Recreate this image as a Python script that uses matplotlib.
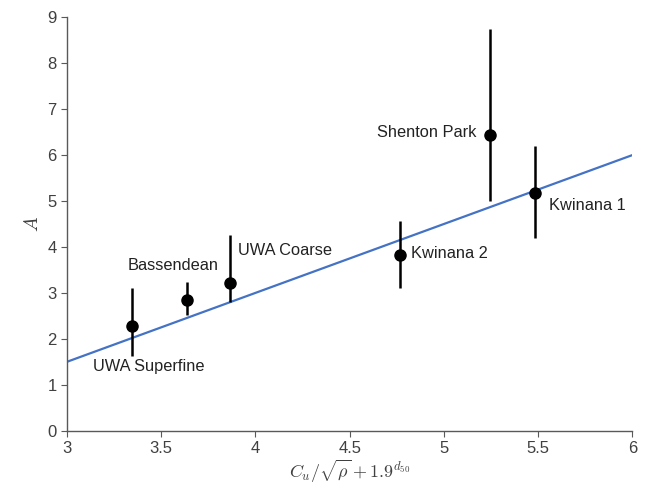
import numpy as np
import matplotlib
matplotlib.use('Agg')
import matplotlib.pyplot as plt
from matplotlib.ticker import FormatStrFormatter, MultipleLocator

plt.rcParams['font.family'] = ['Liberation Sans', 'DejaVu Sans']
plt.rcParams['mathtext.fontset'] = 'cm'

names = ['UWA Superfine', 'Bassendean', 'UWA Coarse', 'Kwinana 2', 'Shenton Park', 'Kwinana 1']
x = [3.347, 3.635, 3.864, 4.766, 5.243, 5.481]
y = [2.28, 2.85, 3.21, 3.83, 6.44, 5.18]
y_hi = [3.11, 3.23, 4.26, 4.57, 8.74, 6.20]
y_lo = [1.63, 2.52, 2.80, 3.10, 5.00, 4.19]

fit_x = [3.0, 6.0]
fit_slope, fit_icpt = 1.5, -3.0

fig = plt.figure(figsize=(6.48, 4.86), dpi=100)
ax = fig.add_axes([0.1034, 0.1138, 0.8724, 0.8506])

fx = np.array(fit_x)
ax.plot(fx, fit_slope * fx + fit_icpt, color='#4472C4', lw=1.6, zorder=1)

yerr = [np.array(y) - np.array(y_lo), np.array(y_hi) - np.array(y)]
ax.errorbar(x, y, yerr=yerr, fmt='o', color='black', ms=8, elinewidth=1.8,
            capsize=0, zorder=3)

# point labels
lab = dict(fontsize=11.8, color='#222222', va='center')
ax.text(3.138, 1.39, names[0], ha='left', **lab)
ax.text(3.565, 3.59, names[1], ha='center', **lab)
ax.text(3.908, 3.93, names[2], ha='left', **lab)
ax.text(4.824, 3.85, names[3], ha='left', **lab)
ax.text(5.171, 6.50, names[4], ha='right', **lab)
ax.text(5.558, 4.91, names[5], ha='left', **lab)

ax.set_xlim(3, 6)
ax.set_ylim(0, 9)
ax.xaxis.set_major_locator(MultipleLocator(0.5))
ax.yaxis.set_major_locator(MultipleLocator(1))
ax.xaxis.set_major_formatter(FormatStrFormatter('%g'))

for s in ['top', 'right']:
    ax.spines[s].set_visible(False)
for s in ['left', 'bottom']:
    ax.spines[s].set_color('#595959')
    ax.spines[s].set_linewidth(1.0)
ax.tick_params(which='both', direction='out', length=4, color='#595959',
               labelsize=12, labelcolor='#404040')

ax.set_ylabel(r'$A$', fontsize=14, color='#404040')
ax.set_xlabel(r'$C_u/\sqrt{\rho}+1.9^{d_{50}}$', fontsize=13, color='#404040',
              labelpad=1)

plt.savefig('out.png', dpi=100)
